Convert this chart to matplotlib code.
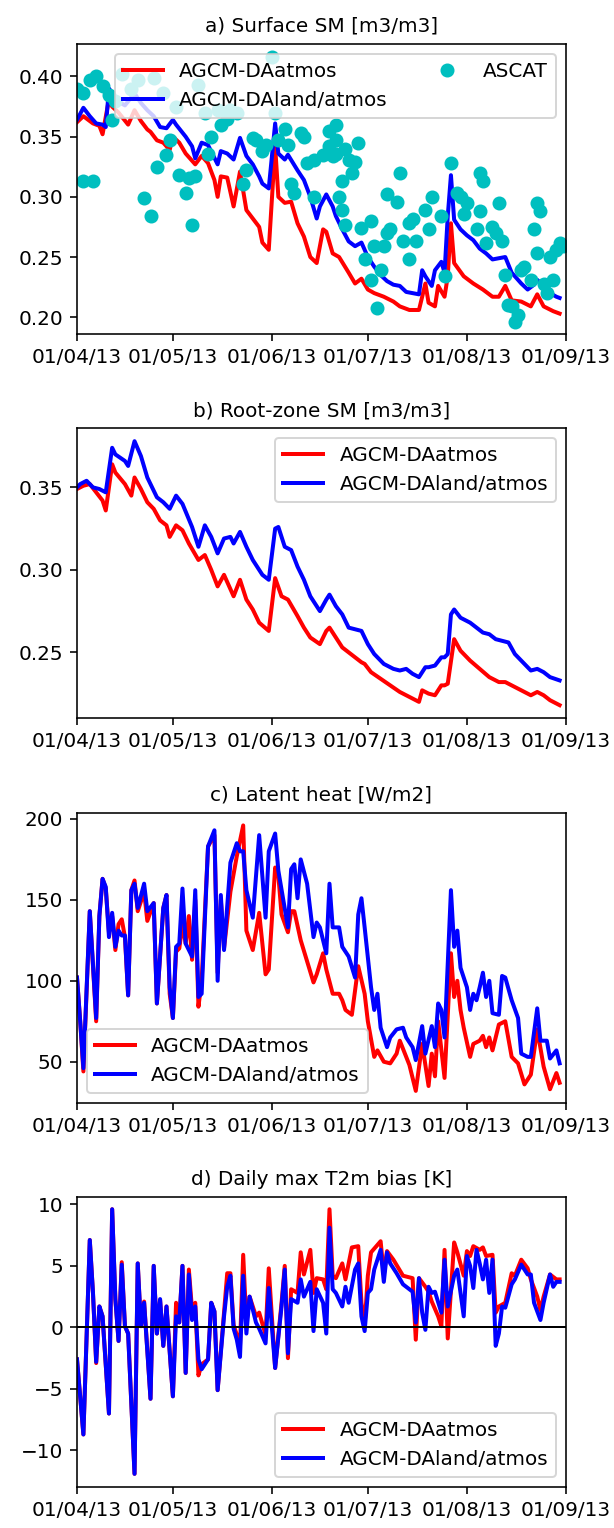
import numpy as np
import matplotlib
matplotlib.use("Agg")
import matplotlib.pyplot as plt
import matplotlib.dates as mdates

start = np.datetime64("2013-04-01")

# a) surface soil moisture, (day since 1 April, value)
sm_atm_days = [0, 2, 5, 7, 8, 10, 11, 13, 16, 18, 20, 22, 23, 25, 27, 29, 30, 32, 34, 37, 39, 41, 43, 44, 45,
               47, 49, 51, 53, 55, 57, 58, 60, 62, 63, 65, 67, 69, 71, 73, 75, 77, 78, 80, 82, 85, 87, 89, 91,
               93, 96, 99, 101, 104, 107, 109, 110, 112, 113, 115, 116, 117, 118, 121, 124, 127, 130, 132, 134,
               136, 139, 142, 144, 146, 149, 151]
sm_atm = [0.362, 0.367, 0.361, 0.359, 0.352, 0.381, 0.375, 0.370, 0.360, 0.372, 0.363, 0.356, 0.354, 0.347,
          0.345, 0.339, 0.350, 0.345, 0.336, 0.327, 0.334, 0.328, 0.314, 0.300, 0.317, 0.316, 0.292, 0.321,
          0.289, 0.282, 0.275, 0.262, 0.256, 0.342, 0.300, 0.295, 0.296, 0.278, 0.267, 0.250, 0.245, 0.273,
          0.271, 0.253, 0.250, 0.237, 0.228, 0.232, 0.223, 0.220, 0.217, 0.213, 0.209, 0.206, 0.206, 0.228,
          0.212, 0.209, 0.226, 0.217, 0.234, 0.278, 0.245, 0.234, 0.228, 0.223, 0.217, 0.217, 0.226, 0.214,
          0.213, 0.209, 0.219, 0.209, 0.205, 0.203]
sm_land_days = [0, 2, 4, 6, 8, 9, 10, 13, 15, 18, 20, 22, 24, 26, 28, 30, 31, 34, 36, 37, 39, 41, 44, 45, 47,
                49, 51, 53, 55, 57, 58, 60, 62, 63, 65, 66, 69, 71, 73, 75, 76, 78, 80, 81, 83, 85, 87, 89, 91,
                93, 95, 97, 99, 101, 103, 105, 107, 108, 109, 111, 112, 114, 115, 116, 117, 118, 120, 122, 124,
                126, 128, 130, 132, 134, 136, 139, 141, 143, 144, 146, 148, 150, 151]
sm_land = [0.364, 0.374, 0.367, 0.361, 0.360, 0.358, 0.390, 0.379, 0.376, 0.386, 0.378, 0.372, 0.367, 0.358,
           0.357, 0.364, 0.360, 0.350, 0.342, 0.332, 0.345, 0.343, 0.327, 0.338, 0.336, 0.331, 0.349, 0.334,
           0.327, 0.317, 0.311, 0.307, 0.361, 0.336, 0.331, 0.335, 0.322, 0.314, 0.300, 0.282, 0.292, 0.302,
           0.292, 0.284, 0.273, 0.263, 0.259, 0.262, 0.250, 0.242, 0.235, 0.230, 0.227, 0.226, 0.221, 0.220,
           0.219, 0.239, 0.234, 0.226, 0.239, 0.246, 0.237, 0.284, 0.318, 0.281, 0.273, 0.268, 0.264, 0.257,
           0.253, 0.248, 0.249, 0.250, 0.237, 0.228, 0.223, 0.227, 0.231, 0.226, 0.220, 0.217, 0.216]
ascat_days = [0, 2, 4, 6, 2, 5, 8, 10, 11, 12, 14, 17, 19, 21, 23, 24, 25, 27, 28, 29, 31, 32, 34, 35, 36, 37,
              38, 40, 41, 42, 44, 45, 47, 48, 50, 52, 53, 55, 56, 58, 59, 61, 62, 63, 65, 66, 67, 68, 70, 71,
              72, 74, 74, 77, 79, 79, 80, 81, 81, 81, 82, 83, 83, 84, 84, 85, 86, 87, 88, 89, 90, 92, 92, 93,
              94, 95, 96, 97, 97, 98, 100, 101, 102, 104, 104, 105, 106, 109, 110, 111, 114, 115, 117, 119, 120,
              121, 122, 125, 126, 126, 127, 128, 130, 131, 132, 133, 134, 135, 136, 137, 138, 139, 140, 142,
              143, 144, 144, 145, 146, 147, 148, 149, 150, 151, 152]
ascat = [0.390, 0.386, 0.397, 0.400, 0.313, 0.313, 0.392, 0.385, 0.364, 0.380, 0.402, 0.390, 0.397, 0.299,
         0.284, 0.399, 0.325, 0.386, 0.335, 0.347, 0.375, 0.318, 0.303, 0.316, 0.277, 0.317, 0.393, 0.370,
         0.336, 0.350, 0.372, 0.360, 0.365, 0.372, 0.370, 0.311, 0.322, 0.349, 0.347, 0.338, 0.343, 0.416,
         0.370, 0.347, 0.356, 0.343, 0.311, 0.303, 0.353, 0.350, 0.328, 0.331, 0.300, 0.335, 0.342, 0.355,
         0.334, 0.347, 0.360, 0.336, 0.300, 0.289, 0.313, 0.277, 0.340, 0.331, 0.320, 0.329, 0.345, 0.274,
         0.248, 0.280, 0.231, 0.259, 0.208, 0.239, 0.259, 0.270, 0.302, 0.273, 0.296, 0.320, 0.263, 0.278,
         0.248, 0.282, 0.263, 0.289, 0.273, 0.300, 0.284, 0.234, 0.328, 0.303, 0.300, 0.286, 0.295, 0.273,
         0.320, 0.288, 0.313, 0.262, 0.275, 0.270, 0.295, 0.263, 0.235, 0.210, 0.209, 0.196, 0.202, 0.239,
         0.242, 0.231, 0.273, 0.295, 0.253, 0.288, 0.228, 0.220, 0.250, 0.231, 0.256, 0.262, 0.259]

# b) root-zone soil moisture
rz_atm_days = [0, 2, 4, 6, 8, 9, 11, 12, 15, 17, 18, 20, 22, 24, 26, 28, 29, 31, 33, 35, 38, 40, 42, 44, 46,
               49, 51, 53, 55, 57, 60, 62, 64, 66, 69, 71, 73, 76, 78, 79, 81, 83, 85, 89, 90, 92, 95, 98, 101,
               104, 107, 108, 110, 112, 114, 115, 116, 118, 120, 123, 126, 129, 132, 134, 137, 140, 142, 144,
               146, 148, 151]
rz_atm = [0.349, 0.351, 0.352, 0.347, 0.342, 0.336, 0.364, 0.359, 0.352, 0.345, 0.356, 0.349, 0.341, 0.337,
          0.330, 0.327, 0.320, 0.327, 0.324, 0.316, 0.306, 0.309, 0.300, 0.290, 0.297, 0.284, 0.294, 0.282,
          0.276, 0.268, 0.263, 0.295, 0.284, 0.282, 0.272, 0.265, 0.259, 0.255, 0.263, 0.265, 0.259, 0.253,
          0.250, 0.244, 0.243, 0.238, 0.234, 0.230, 0.226, 0.223, 0.220, 0.227, 0.225, 0.224, 0.230, 0.230,
          0.231, 0.258, 0.251, 0.245, 0.240, 0.235, 0.232, 0.232, 0.229, 0.226, 0.224, 0.226, 0.224, 0.221,
          0.218]
rz_land_days = [0, 1, 3, 5, 7, 9, 11, 12, 15, 16, 18, 20, 22, 25, 27, 29, 31, 33, 36, 38, 40, 42, 44, 46, 48,
                49, 51, 53, 55, 58, 60, 62, 63, 65, 67, 69, 71, 73, 76, 78, 79, 81, 83, 85, 89, 91, 93, 96, 99,
                101, 103, 105, 107, 109, 110, 112, 114, 115, 116, 117, 118, 120, 123, 125, 127, 129, 131, 133,
                135, 137, 140, 142, 144, 146, 148, 151]
rz_land = [0.350, 0.352, 0.354, 0.350, 0.349, 0.347, 0.374, 0.370, 0.366, 0.363, 0.378, 0.369, 0.356, 0.344,
           0.341, 0.337, 0.345, 0.340, 0.326, 0.314, 0.327, 0.320, 0.310, 0.319, 0.320, 0.316, 0.323, 0.314,
           0.306, 0.297, 0.294, 0.325, 0.326, 0.314, 0.312, 0.302, 0.294, 0.284, 0.275, 0.282, 0.285, 0.278,
           0.273, 0.265, 0.263, 0.255, 0.249, 0.243, 0.240, 0.239, 0.240, 0.237, 0.235, 0.241, 0.241, 0.242,
           0.247, 0.247, 0.249, 0.273, 0.276, 0.271, 0.268, 0.265, 0.262, 0.261, 0.258, 0.257, 0.256, 0.249,
           0.243, 0.239, 0.240, 0.238, 0.235, 0.233]

# c) latent heat flux
lh_atm_days = [0, 1, 2, 4, 6, 7, 8, 9, 10, 11, 12, 13, 14, 15, 16, 17, 18, 19, 21, 22, 24, 25, 27, 28, 29, 30,
               31, 32, 33, 34, 35, 36, 37, 38, 39, 41, 43, 44, 45, 46, 48, 50, 52, 53, 55, 57, 59, 60, 62, 63,
               64, 66, 67, 68, 70, 72, 74, 75, 77, 78, 80, 82, 83, 84, 86, 88, 90, 91, 93, 94, 96, 98, 100, 101,
               103, 104, 106, 108, 110, 111, 112, 113, 115, 117, 118, 119, 120, 121, 123, 124, 126, 127, 128,
               129, 130, 131, 132, 134, 136, 138, 140, 142, 144, 146, 148, 150, 151]
lh_atm = [102, 75, 44, 143, 75, 140, 163, 157, 130, 140, 119, 135, 138, 127, 91, 156, 162, 143, 155, 137, 148,
          86, 145, 153, 92, 77, 118, 120, 135, 123, 140, 113, 150, 84, 100, 183, 190, 105, 150, 120, 155, 177,
          196, 131, 119, 142, 104, 107, 170, 165, 141, 130, 143, 143, 125, 112, 99, 104, 117, 107, 92, 92, 88,
          82, 79, 109, 92, 75, 53, 57, 50, 49, 55, 63, 53, 48, 32, 61, 35, 55, 41, 75, 40, 117, 90, 100, 82, 71,
          53, 61, 63, 66, 59, 65, 57, 65, 73, 75, 53, 49, 36, 42, 70, 47, 33, 43, 37]
lh_land_days = [0, 1, 2, 4, 6, 7, 8, 9, 10, 11, 12, 13, 14, 15, 16, 17, 18, 19, 21, 22, 24, 25, 27, 28, 29,
                30, 31, 32, 33, 34, 36, 37, 38, 39, 41, 43, 44, 45, 46, 48, 50, 51, 52, 53, 55, 57, 59, 60, 62,
                63, 66, 67, 68, 69, 70, 72, 74, 75, 76, 78, 79, 80, 82, 83, 85, 87, 88, 89, 90, 92, 93, 94, 95,
                97, 98, 100, 102, 103, 105, 106, 108, 109, 111, 112, 113, 114, 115, 117, 118, 119, 120, 122,
                123, 124, 125, 126, 127, 128, 129, 130, 132, 133, 134, 136, 138, 139, 141, 142, 144, 145, 147,
                148, 150, 151]
lh_land = [102, 75, 46, 143, 77, 140, 163, 158, 127, 142, 121, 131, 128, 128, 91, 156, 160, 145, 160, 143, 148,
           86, 145, 153, 96, 77, 121, 123, 157, 123, 115, 156, 90, 92, 183, 193, 100, 153, 119, 173, 185, 180,
           180, 156, 139, 190, 139, 180, 191, 168, 133, 169, 172, 151, 175, 160, 127, 136, 133, 117, 160, 133,
           133, 121, 115, 102, 141, 151, 133, 96, 82, 92, 71, 59, 65, 70, 71, 65, 59, 51, 72, 55, 72, 59, 86,
           82, 65, 156, 121, 131, 108, 96, 82, 92, 88, 96, 105, 90, 100, 80, 79, 103, 102, 88, 77, 55, 53, 53,
           83, 63, 63, 52, 57, 49]

# d) daily maximum 2 m temperature bias
t2m_atm_days = [0, 2, 4, 5, 6, 7, 8, 10, 11, 12, 13, 14, 15, 16, 18, 19, 20, 21, 23, 24, 25, 26, 27, 28, 30,
                31, 32, 33, 34, 35, 36, 37, 38, 39, 41, 42, 43, 44, 46, 47, 48, 49, 50, 51, 52, 53, 54, 56, 57,
                59, 60, 62, 64, 65, 66, 67, 69, 70, 71, 73, 74, 75, 77, 78, 79, 80, 81, 83, 84, 86, 88, 89, 90,
                91, 92, 95, 96, 97, 99, 102, 105, 106, 107, 109, 110, 111, 113, 114, 115, 116, 118, 119, 121,
                122, 123, 124, 126, 127, 128, 130, 131, 132, 134, 136, 137, 139, 141, 142, 144, 145, 146, 148,
                150, 151]
t2m_atm = [-2.6, -8.7, 7.1, 2.8, -2.9, 1.7, 0.9, -7.0, 9.6, 2.3, -1.1, 5.3, 0.1, -0.5, -11.9, 5.2, 0.1, 2.1,
           -5.8, 5.0, -0.5, 2.2, -1.5, 1.7, -5.6, 2.0, 0.4, 5.0, -3.7, 4.7, 1.4, 2.0, -3.9, -3.0, -2.6, 2.0,
           1.3, -5.1, 1.2, 4.4, 4.4, 0.2, -0.6, -1.5, 5.9, 0.3, 2.5, 0.9, 1.2, -0.6, 4.8, -3.3, 2.0, 5.0, -2.5,
           3.1, 2.8, 6.1, 4.3, 6.3, 2.8, 4.0, 3.9, 3.1, 9.6, 4.2, 4.0, 5.2, 3.9, 6.5, 6.6, 2.0, 0.2, 4.2, 6.1,
           7.0, 4.3, 6.2, 5.5, 4.2, 4.0, -1.0, 4.0, 3.3, 2.9, 2.1, 0.9, 0.1, 6.3, -0.9, 6.9, 6.1, 4.2, 6.2,
           5.8, 6.6, 6.3, 6.5, 5.8, 5.9, 1.2, 1.7, 2.0, 4.4, 4.2, 5.5, 4.8, 3.9, 2.5, 1.4, 2.5, 4.3, 3.9, 3.9]
t2m_land_days = [0, 2, 4, 5, 6, 7, 8, 10, 11, 12, 13, 14, 15, 16, 18, 19, 20, 21, 23, 24, 25, 26, 27, 28, 30,
                 31, 32, 33, 34, 35, 36, 37, 38, 39, 41, 42, 43, 44, 46, 47, 48, 49, 50, 51, 52, 53, 54, 56,
                 57, 59, 60, 62, 64, 65, 66, 67, 69, 70, 71, 73, 74, 75, 77, 78, 79, 80, 81, 83, 84, 85, 87,
                 88, 89, 90, 91, 92, 93, 95, 96, 97, 98, 100, 102, 103, 105, 106, 107, 108, 109, 110, 111,
                 112, 114, 115, 116, 118, 119, 121, 122, 123, 124, 125, 126, 127, 128, 129, 130, 131, 132,
                 133, 134, 136, 137, 139, 141, 142, 143, 145, 146, 148, 149, 150, 151]
t2m_land = [-2.6, -8.7, 7.1, 2.8, -2.8, 1.7, 0.9, -7.0, 9.6, 2.3, -1.1, 5.1, 0.1, -0.5, -11.9, 5.2, 0.1, 2.0,
            -5.8, 5.0, -0.5, 2.3, -1.5, 1.7, -5.6, 0.9, 0.4, 5.0, -3.7, 4.3, 0.6, 1.7, -2.6, -3.4, -2.6, 2.0,
            1.3, -5.1, 0.9, 3.3, 4.2, -0.1, -1.0, -2.4, 4.2, -0.5, 2.5, 0.4, -0.1, -1.3, 3.2, -3.3, 1.7, 4.7,
            -2.1, 2.3, 2.0, 3.9, 2.5, 3.7, -0.3, 3.1, 2.0, -0.5, 8.1, 3.1, 2.8, 1.7, 3.3, 2.0, 4.7, 5.2, 0.9,
            -0.3, 2.8, 3.1, 4.7, 6.3, 3.7, 6.1, 5.2, 4.4, 3.5, 3.3, 2.9, 0.4, 4.0, 1.2, -0.2, 3.3, 2.8, 2.9,
            1.2, 5.5, 1.7, 4.2, 4.7, 0.9, 5.8, 5.0, 3.2, 6.3, 5.2, 3.9, 5.5, 2.8, 5.5, -1.5, -0.5, 1.7, 1.6,
            3.5, 3.9, 5.1, 4.3, 4.3, 2.0, 0.6, 2.0, 4.3, 3.3, 3.7, 3.7]


def to_dates(days):
    return start + np.array(days).astype("timedelta64[D]")


plt.rcParams["font.size"] = 10
fig, axs = plt.subplots(4, 1, figsize=(614 / 144, 1528 / 144), dpi=144)
fig.subplots_adjust(left=77 / 614, right=566 / 614, top=1 - 44 / 1528, bottom=1 - 1487 / 1528, hspace=0.325)

lab_atm = "AGCM-DAatmos"
lab_land = "AGCM-DAland/atmos"

ax = axs[0]
ax.plot(to_dates(sm_atm_days), sm_atm, color="r", lw=2, label=lab_atm)
ax.plot(to_dates(sm_land_days), sm_land, color="b", lw=2, label=lab_land)
ax.plot(to_dates(ascat_days), ascat, "o", color="c", ms=6, label="ASCAT")
ax.set_ylim(0.186, 0.427)
ax.set_yticks([0.20, 0.25, 0.30, 0.35, 0.40])
ax.set_title("a) Surface SM [m3/m3]", fontsize=10)
ax.legend(loc="upper right", ncol=2)

ax = axs[1]
ax.plot(to_dates(rz_atm_days), rz_atm, color="r", lw=2, label=lab_atm)
ax.plot(to_dates(rz_land_days), rz_land, color="b", lw=2, label=lab_land)
ax.set_ylim(0.210, 0.3858)
ax.set_yticks([0.25, 0.30, 0.35])
ax.set_title("b) Root-zone SM [m3/m3]", fontsize=10)
ax.legend(loc="upper right")

ax = axs[2]
ax.plot(to_dates(lh_atm_days), lh_atm, color="r", lw=2, label=lab_atm)
ax.plot(to_dates(lh_land_days), lh_land, color="b", lw=2, label=lab_land)
ax.set_ylim(24.7, 203.9)
ax.set_yticks([50, 100, 150, 200])
ax.set_title("c) Latent heat [W/m2]", fontsize=10)
ax.legend(loc="lower left")

ax = axs[3]
ax.plot(to_dates(t2m_atm_days), t2m_atm, color="r", lw=2, label=lab_atm)
ax.plot(to_dates(t2m_land_days), t2m_land, color="b", lw=2, label=lab_land)
ax.axhline(0, color="k", lw=1)
ax.set_ylim(-12.97, 10.6)
ax.set_yticks([-10, -5, 0, 5, 10])
ax.set_title("d) Daily max T2m bias [K]", fontsize=10)
ax.legend(loc="lower right")

months = [np.datetime64("2013-%02d-01" % m) for m in range(4, 10)]
for ax in axs:
    ax.set_xlim(months[0], months[-1])
    ax.set_xticks(months)
    ax.xaxis.set_major_formatter(mdates.DateFormatter("%d/%m/%y"))

fig.savefig("out.png", dpi=144)
